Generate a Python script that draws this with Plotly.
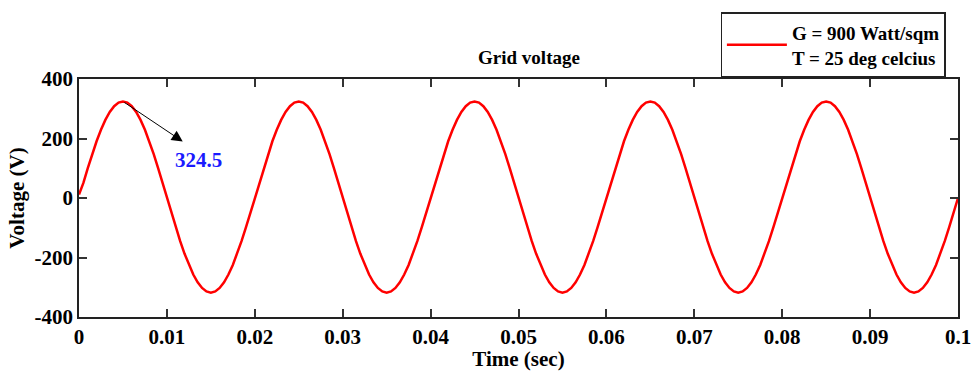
import numpy as np
import plotly.graph_objects as go

# Sampling of the grid voltage trace (0.5 ms step, 0 .. 0.1 s)
t_start = 0.0
t_step = 0.0005

# Grid voltage samples (V)
voltage = [
    12, 50.8, 100.3, 147.3, 190.7, 229.5, 262.5, 289.1, 308.6, 320.5,
    324.5, 320.5, 308.6, 289.1, 262.5, 229.5, 190.7, 147.3, 100.3, 50.8,
    0, -49.7, -98.3, -144.4, -186.9, -224.9, -257.3, -283.3, -302.4, -314.1,
    -318, -314.1, -302.4, -283.3, -257.3, -224.9, -186.9, -144.4, -98.3, -49.7,
    0, 50.8, 100.3, 147.3, 190.7, 229.5, 262.5, 289.1, 308.6, 320.5,
    324.5, 320.5, 308.6, 289.1, 262.5, 229.5, 190.7, 147.3, 100.3, 50.8,
    0, -49.7, -98.3, -144.4, -186.9, -224.9, -257.3, -283.3, -302.4, -314.1,
    -318, -314.1, -302.4, -283.3, -257.3, -224.9, -186.9, -144.4, -98.3, -49.7,
    0, 50.8, 100.3, 147.3, 190.7, 229.5, 262.5, 289.1, 308.6, 320.5,
    324.5, 320.5, 308.6, 289.1, 262.5, 229.5, 190.7, 147.3, 100.3, 50.8,
    0, -49.7, -98.3, -144.4, -186.9, -224.9, -257.3, -283.3, -302.4, -314.1,
    -318, -314.1, -302.4, -283.3, -257.3, -224.9, -186.9, -144.4, -98.3, -49.7,
    0, 50.8, 100.3, 147.3, 190.7, 229.5, 262.5, 289.1, 308.6, 320.5,
    324.5, 320.5, 308.6, 289.1, 262.5, 229.5, 190.7, 147.3, 100.3, 50.8,
    0, -49.7, -98.3, -144.4, -186.9, -224.9, -257.3, -283.3, -302.4, -314.1,
    -318, -314.1, -302.4, -283.3, -257.3, -224.9, -186.9, -144.4, -98.3, -49.7,
    0, 50.8, 100.3, 147.3, 190.7, 229.5, 262.5, 289.1, 308.6, 320.5,
    324.5, 320.5, 308.6, 289.1, 262.5, 229.5, 190.7, 147.3, 100.3, 50.8,
    0, -49.7, -98.3, -144.4, -186.9, -224.9, -257.3, -283.3, -302.4, -314.1,
    -318, -314.1, -302.4, -283.3, -257.3, -224.9, -186.9, -144.4, -98.3, -49.7,
    0,
]
time = t_start + t_step * np.arange(len(voltage))

x_ticks = [0, 0.01, 0.02, 0.03, 0.04, 0.05, 0.06, 0.07, 0.08, 0.09, 0.1]
x_tick_labels = ["0", "0.01", "0.02", "0.03", "0.04", "0.05", "0.06", "0.07", "0.08", "0.09", "0.1"]
y_ticks = [-400, -200, 0, 200, 400]
y_tick_labels = ["-400", "-200", "0", "200", "400"]

# Peak marker
peak_time = 0.005
peak_value = 324.5

FONT = "Liberation Serif"

fig = go.Figure()
fig.add_trace(go.Scatter(
    x=time, y=voltage, mode="lines",
    line=dict(color="#ff0000", width=2.5),
    name="<b>G = 900 Watt/sqm<br>T = 25 deg celcius</b>",
    showlegend=True,
))

# Arrow from the peak toward its value label
fig.add_annotation(
    x=0.0118, y=190, ax=peak_time, ay=peak_value,
    xref="x", yref="y", axref="x", ayref="y",
    text="", showarrow=True, arrowhead=2, arrowsize=2.2,
    arrowwidth=1, arrowcolor="#000000",
)
fig.add_annotation(
    x=0.01365, y=128, xref="x", yref="y",
    text=f"<b>{peak_value}</b>", showarrow=False,
    font=dict(family=FONT, size=21, color="#1a1aff"),
)

axis_common = dict(
    showline=True, linecolor="#222222", linewidth=1.5, mirror="ticks",
    ticks="inside", ticklen=8, tickwidth=1.5, tickcolor="#333333",
    showgrid=False, zeroline=False, automargin=False,
    tickfont=dict(family=FONT, size=21, color="#000000"),
)

fig.update_xaxes(
    range=[0, 0.1], tickvals=x_ticks, ticktext=[f"<b>{s}</b>" for s in x_tick_labels],
    title=dict(text="<b>Time (sec)</b>", font=dict(family=FONT, size=21, color="#000000"), standoff=0),
    **axis_common,
)
fig.update_yaxes(
    range=[-400, 400], tickvals=y_ticks, ticktext=[f"<b>{s}</b>" for s in y_tick_labels],
    title=dict(text="<b>Voltage (V)</b>", font=dict(family=FONT, size=21, color="#000000"), standoff=4),
    **axis_common,
)

fig.update_layout(
    width=978, height=371,
    margin=dict(l=79, r=20, t=79, b=54),
    paper_bgcolor="white", plot_bgcolor="white",
    title=dict(text="<b>Grid voltage</b>", x=529 / 978, xanchor="center",
               y=1 - 57 / 371, yanchor="middle",
               font=dict(family=FONT, size=19, color="#000000")),
    legend=dict(
        x=0.986, xanchor="right", y=1.28, yanchor="top",
        bgcolor="white", bordercolor="#222222", borderwidth=1.2,
        font=dict(family=FONT, size=19, color="#000000"),
        tracegroupgap=0, itemwidth=60,
    ),
)

fig.write_html("out.html")
